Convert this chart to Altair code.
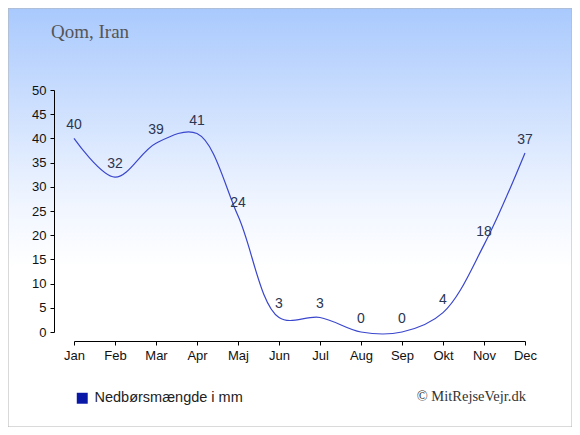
import altair as alt
import pandas as pd

months = ["Jan", "Feb", "Mar", "Apr", "Maj", "Jun", "Jul", "Aug", "Sep", "Okt", "Nov", "Dec"]
precip = [40, 32, 39, 41, 24, 3, 3, 0, 0, 4, 18, 37]
y_ticks = [0, 5, 10, 15, 20, 25, 30, 35, 40, 45, 50]
series_name = "Nedbørsmængde i mm"
title_text = "Qom, Iran"
credit_text = "© MitRejseVejr.dk"

df = pd.DataFrame({"month": months, "value": precip, "series": [series_name] * len(months)})
one = pd.DataFrame({"a": [0]})

W, H = 451, 242
PAD = {"left": 66, "top": 82, "right": 47, "bottom": 95}

grad = alt.LinearGradient(
    gradient="linear",
    stops=[alt.GradientStop(color="#a9c9fd", offset=0),
           alt.GradientStop(color="#eef4ff", offset=0.45),
           alt.GradientStop(color="#ffffff", offset=0.62)],
    x1=0, x2=0, y1=0, y2=1,
)

bg = alt.Chart(one).mark_rect(fill=grad, stroke="#b4b4b4", strokeWidth=1).encode(
    x=alt.value(-PAD["left"]), x2=alt.value(W + PAD["right"]),
    y=alt.value(-PAD["top"]), y2=alt.value(H + PAD["bottom"]),
)

xaxis = alt.Axis(title=None, offset=9, labelAngle=0, domainColor="black",
                 tickColor="black", tickSize=4, labelPadding=4, zindex=2,
                 labelOverlap=False,
                 labelFont="Liberation Sans", labelFontSize=13, labelColor="#111")
yaxis = alt.Axis(title=None, offset=20, values=y_ticks, tickCount=11, grid=False,
                 domainColor="black", tickColor="black", tickSize=4, labelPadding=4,
                 zindex=2, labelOverlap=False,
                 labelFont="Liberation Sans", labelFontSize=13, labelColor="#111")

xenc = alt.X("month:N", sort=months, scale=alt.Scale(type="point", padding=0), axis=xaxis)
yenc = alt.Y("value:Q", scale=alt.Scale(domain=[0, 50], nice=False, zero=True), axis=yaxis)

line = alt.Chart(df).mark_line(interpolate="catmull-rom", color="#3a46cc", strokeWidth=1.2).encode(
    x=xenc, y=yenc
)

labels = alt.Chart(df).mark_text(dy=-13, baseline="middle", align="center",
                                 font="Liberation Sans", fontSize=14, color="#2b3652").encode(
    x=xenc, y=yenc, text="value:Q"
)

legend_pts = alt.Chart(df).mark_point(filled=True, opacity=0, size=0).encode(
    x=xenc, y=yenc,
    fill=alt.Fill("series:N", scale=alt.Scale(domain=[series_name], range=["#0a18a8"]),
                  legend=alt.Legend(title=None, orient="none", legendX=1, legendY=301,
                                    symbolType="square", symbolSize=120, symbolOpacity=1,
                                    symbolStrokeWidth=0, labelOffset=5,
                                    labelFont="Liberation Sans", labelFontSize=14.5,
                                    labelColor="#222")),
)

title = alt.Chart(one).mark_text(align="left", baseline="middle", font="Liberation Serif",
                                 fontSize=19, color="#555555").encode(
    x=alt.value(-23), y=alt.value(-58), text=alt.value(title_text)
)

credit = alt.Chart(one).mark_text(align="right", baseline="middle", font="Liberation Serif",
                                  fontSize=14.5, color="#333333").encode(
    x=alt.value(452), y=alt.value(307), text=alt.value(credit_text)
)

chart = alt.layer(bg, line, labels, legend_pts, title, credit).properties(
    width=W, height=H, padding=PAD, autosize=alt.AutoSizeParams(type="none"),
    background="white",
).configure_view(stroke=None)

chart.save("out.html", embed_options={"renderer": "svg", "actions": False})
